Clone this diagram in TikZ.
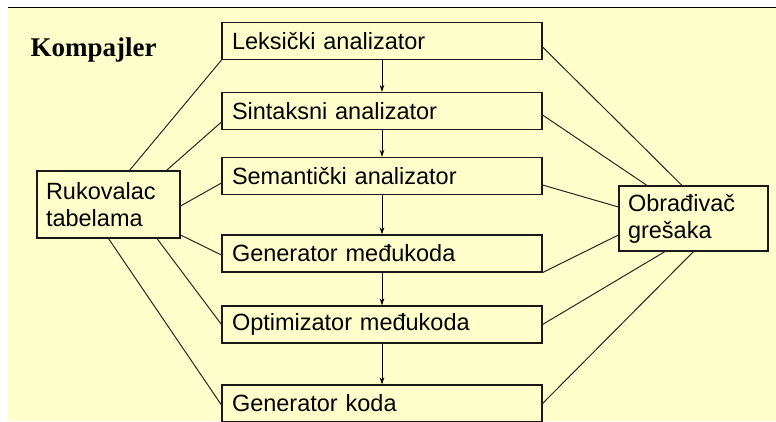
\documentclass[tikz,border=0pt]{standalone}
\usepackage{fontspec}
\setmainfont{Liberation Sans}
\newfontfamily\titlefont{Liberation Serif}
\usetikzlibrary{calc,arrows.meta}
\definecolor{bgyellow}{HTML}{FFFFCC}
\begin{document}
\begin{tikzpicture}[x=1pt,y=-1pt,
  stagebox/.style={draw=black!90, line width=1.1pt, fill=bgyellow, minimum height=37pt,
    text width=300pt, inner xsep=10pt, inner ysep=0pt, align=left, anchor=center,
    font=\fontsize{23.5}{27}\selectfont},
  sidebox/.style={draw=black!90, line width=1.1pt, fill=bgyellow, inner ysep=0pt,
    inner xsep=9pt, align=left, anchor=center, font=\fontsize{23.5}{27}\selectfont},
  link/.style={line width=1pt, draw=black!85},
  flow/.style={line width=1pt, -{Stealth[length=7pt,width=4.5pt]}}]
\useasboundingbox (0,0) rectangle (776,421);
\fill[white] (0,0) rectangle (776,421);
\fill[bgyellow] (8,8) rectangle (776,421);
\draw[line width=1.8pt] (8,7.5) -- (776,7.5);
\clip (0,0) rectangle (776,421);

\node[anchor=base west, font=\titlefont\bfseries\fontsize{27}{30}\selectfont] (title) at (27,56.5) {Kompajler};

\node[stagebox] (lek) at (382,41) {Leksički analizator};
\node[stagebox] (sin) at (382,111) {Sintaksni analizator};
\node[stagebox] (sem) at (382,176) {Semantički analizator};
\node[stagebox] (gen) at (382,253.5) {Generator međukoda};
\node[stagebox] (opt) at (382,324.5) {Optimizator međukoda};
\node[stagebox] (kod) at (382,403.5) {Generator koda};

\node[sidebox, minimum width=143pt, minimum height=67pt, text width=125pt] (ruk) at (108.5,204.5) {Rukovalac\\tabelama};
\node[sidebox, minimum width=149pt, minimum height=65pt, text width=131pt] (obr) at (693.5,218.5) {Obrađivač\\grešaka};

\draw[flow] (lek.south) -- (sin.north);
\draw[flow] (sin.south) -- (sem.north);
\draw[flow] (sem.south) -- (gen.north);
\draw[flow] (gen.south) -- (opt.north);
\draw[flow] (opt.south) -- (kod.north);

\draw[link] ($(ruk.north west)+(93,0)$) -- (lek.south west);
\draw[link] ($(ruk.north west)+(130,0)$) -- ($(sin.west)+(0,11)$);
\draw[link] ($(ruk.east)+(0,1.5)$) -- ($(sem.west)+(0,7)$);
\draw[link] ($(ruk.east)+(0,30.5)$) -- ($(gen.west)+(0,1.5)$);
\draw[link] ($(ruk.south)+(48.5,0)$) -- (opt.west);
\draw[link] (ruk.south) -- ($(kod.west)+(0,1.5)$);

\draw[link] ($(lek.east)+(0,6)$) -- ($(obr.north)+(-11.5,0)$);
\draw[link] ($(sin.east)+(0,4)$) -- ($(obr.north)+(-46.5,0)$);
\draw[link] ($(sem.east)+(0,9)$) -- ($(obr.west)+(0,-11.5)$);
\draw[link] (gen.south east) -- ($(obr.west)+(0,16.5)$);
\draw[link] (opt.east) -- ($(obr.south)+(-28.5,0)$);
\draw[link] (kod.east) -- (obr.south);
\end{tikzpicture}
\end{document}
